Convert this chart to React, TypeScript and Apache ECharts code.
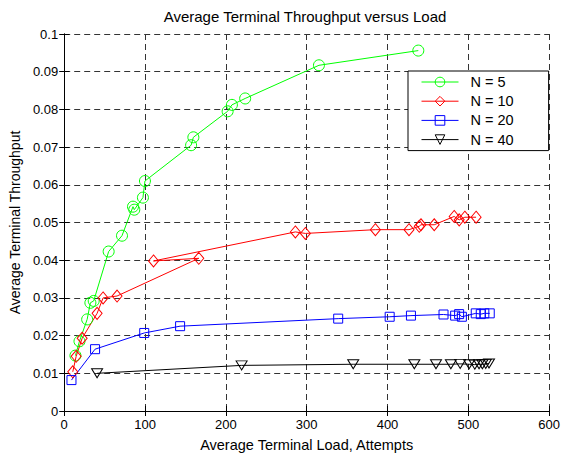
import React, { useEffect, useRef } from "react";
import * as echarts from "echarts";

const TITLE = "Average Terminal Throughput versus Load";
const X_NAME = "Average Terminal Load, Attempts";
const Y_NAME = "Average Terminal Throughput";
const SERIES_NAMES = ["N = 5", "N = 10", "N = 20", "N = 40"];
const COLORS = ["#00ff00", "#ff0000", "#0000ff", "#000000"];

const X5 = [13.9, 18.9, 28.4, 32.4, 36.5, 55, 71.5, 85.1, 86.7, 97.4, 99.9, 157, 159.8, 202.2, 207.5, 223.9, 315.2, 438.1];
const Y5 = [0.0147, 0.0185, 0.0243, 0.0287, 0.0292, 0.0423, 0.0465, 0.0542, 0.0534, 0.0566, 0.061, 0.0705, 0.0726, 0.0795, 0.0812, 0.0829, 0.0917, 0.0956];

const X10 = [10.6, 14.8, 22.2, 40.7, 48.1, 65.4, 166.5, 110.5, 286, 298.4, 385, 426.6, 439.3, 441.4, 457.8, 482.5, 488.7, 495.7, 509.6];
const Y10 = [0.0104, 0.0145, 0.0193, 0.0259, 0.03, 0.0305, 0.0405, 0.0398, 0.0475, 0.0471, 0.0481, 0.0481, 0.049, 0.0494, 0.0494, 0.0516, 0.0507, 0.0514, 0.0514];

const X20 = [9, 38.2, 99, 143.4, 339, 402.7, 429, 469.3, 483.7, 488.6, 492, 509.2, 515.4, 519.8, 526.5];
const Y20 = [0.0082, 0.0164, 0.0207, 0.0225, 0.0245, 0.025, 0.0253, 0.0256, 0.0253, 0.0257, 0.025, 0.0259, 0.0257, 0.0259, 0.0259];

const X40 = [40.7, 219.5, 357.6, 433.2, 460, 478.4, 489.9, 501, 508, 513.3, 517.4, 521.5, 525.6];
const Y40 = [0.01, 0.0121, 0.0124, 0.0124, 0.0124, 0.0124, 0.0125, 0.0124, 0.0123, 0.0124, 0.0124, 0.0125, 0.0126];

const X_TICKS = [0, 100, 200, 300, 400, 500, 600];
const Y_TICKS = [0, 0.01, 0.02, 0.03, 0.04, 0.05, 0.06, 0.07, 0.08, 0.09, 0.1];

const FONT = "'Liberation Sans', Arial, sans-serif";

const zip = (xs: number[], ys: number[]) => xs.map((x, i) => [x, ys[i]]);

export default function App() {
  const ref = useRef<HTMLDivElement>(null);
  useEffect(() => {
    if (!ref.current) return;
    const chart = echarts.init(ref.current, undefined, { renderer: "svg" });
    const datasets = [zip(X5, Y5), zip(X10, Y10), zip(X20, Y20), zip(X40, Y40)];
    const symbols = ["circle", "diamond", "rect", "triangle"];
    const sizes: any[] = [11, [10, 12], 9, [11, 9]];
    const rotates = [0, 0, 0, 180];
    const gridLine = { show: true, lineStyle: { color: "#333", type: [6, 4], width: 1 } };
    const baseAxis = {
      axisLine: { show: true, lineStyle: { color: "#000", width: 1 } },
      axisTick: { show: true, inside: true, length: 5, lineStyle: { color: "#000" } },
    };
    chart.setOption({
      animation: false,
      backgroundColor: "#fff",
      title: {
        text: TITLE,
        left: 305,
        textAlign: "center",
        top: 9,
        padding: 0,
        textStyle: { fontFamily: FONT, fontSize: 15, fontWeight: "normal", color: "#000" },
      },
      grid: { left: 63, right: 12, top: 34, bottom: 41 },
      legend: {
        orient: "vertical",
        left: 408,
        top: 71,
        data: SERIES_NAMES,
        itemWidth: 37,
        itemHeight: 12,
        itemGap: 4.2,
        padding: [3.5, 35, 3.5, 13],
        borderColor: "#000",
        borderWidth: 1,
        backgroundColor: "#fff",
        borderRadius: 0,
        lineStyle: { width: 1 },
        itemStyle: { color: "rgba(0,0,0,0)", borderWidth: 1 },
        textStyle: { fontFamily: FONT, fontSize: 14.5, color: "#000", padding: [0, 0, 0, 7] },
      },
      xAxis: [
        {
          ...baseAxis,
          type: "value",
          min: X_TICKS[0],
          max: X_TICKS[X_TICKS.length - 1],
          interval: 100,
          name: X_NAME,
          nameLocation: "middle",
          nameGap: 26,
          nameTextStyle: { fontFamily: FONT, fontSize: 14.5, color: "#000" },
          axisLabel: { fontFamily: FONT, fontSize: 13, color: "#000", margin: 7 },
          splitLine: gridLine,
        },
        {
          ...baseAxis,
          type: "value",
          position: "top",
          min: X_TICKS[0],
          max: X_TICKS[X_TICKS.length - 1],
          interval: 100,
          axisLabel: { show: false },
          splitLine: { show: false },
        },
      ],
      yAxis: [
        {
          ...baseAxis,
          type: "value",
          min: Y_TICKS[0],
          max: Y_TICKS[Y_TICKS.length - 1],
          interval: 0.01,
          name: Y_NAME,
          nameLocation: "middle",
          nameGap: 38.5,
          nameTextStyle: { fontFamily: FONT, fontSize: 14, color: "#000" },
          axisLabel: {
            fontFamily: FONT,
            fontSize: 13,
            color: "#000",
            margin: 6,
            formatter: (v: number) => String(+v.toFixed(2)),
          },
          splitLine: gridLine,
        },
        {
          ...baseAxis,
          type: "value",
          position: "right",
          min: Y_TICKS[0],
          max: Y_TICKS[Y_TICKS.length - 1],
          interval: 0.01,
          axisLabel: { show: false },
          splitLine: { show: false },
        },
      ],
      series: datasets.map((d, i) => ({
        name: SERIES_NAMES[i],
        type: "line",
        data: d,
        xAxisIndex: 0,
        yAxisIndex: 0,
        symbol: symbols[i],
        symbolSize: sizes[i],
        symbolRotate: rotates[i],
        showAllSymbol: true,
        lineStyle: { color: COLORS[i], width: 1 },
        itemStyle: { color: "rgba(0,0,0,0)", borderColor: COLORS[i], borderWidth: 1 },
        emphasis: { disabled: true },
      })),
    });
    return () => chart.dispose();
  }, []);
  return <div ref={ref} style={{ position: "absolute", left: 0, top: 0, width: 563, height: 457 }} />;
}
